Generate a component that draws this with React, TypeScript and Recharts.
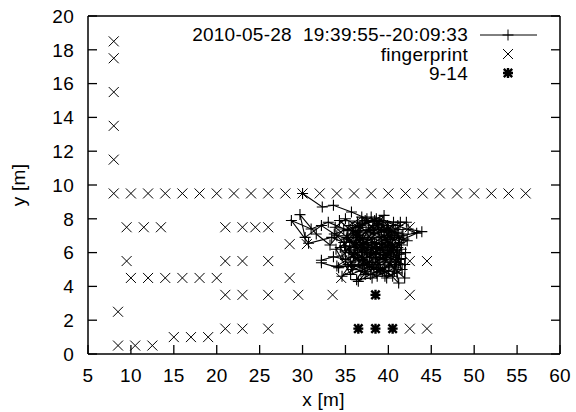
import React from 'react';
import { ScatterChart, Scatter, XAxis, YAxis, Legend } from 'recharts';

const xTicks = [5, 10, 15, 20, 25, 30, 35, 40, 45, 50, 55, 60];
const yTicks = [0, 2, 4, 6, 8, 10, 12, 14, 16, 18, 20];

const trajectoryTitle = '2010-05-28\u00a0 19:39:55--20:09:33';
const fingerprintTitle = 'fingerprint';
const selectedTitle = '9-14';

// fingerprint grid
const fpCol8Y = [18.5, 17.5, 15.5, 13.5, 11.5];
const fpRow9_5X = [8, 10, 12, 14, 16, 18, 20, 22, 24, 26, 28, 30, 32, 34, 36, 38, 40, 42, 44, 46, 48, 50, 52, 54, 56];
const fpRow7_5X = [9.5, 11.5, 13.5, 21, 23, 24.5, 26, 42.5];
const fpRow6_5X = [28.5, 30.5];
const fpRow5_5X = [9.5, 21, 23, 26, 42.5, 44.5];
const fpRow4_5X = [10, 12, 14, 16, 18, 20, 28.5, 34.5];
const fpRow3_5X = [21, 23, 26, 29.5, 33.5, 42.5];
const fpRow2_5X = [8.5];
const fpRow1_5X = [21, 23, 26, 42.5, 44.5];
const fpRow1_0X = [15, 17, 19];
const fpRow0_5X = [8.5, 10.5, 12.5];

// 9-14 points
const selX = [36.5, 38.5, 40.5, 38.5];
const selY = [1.5, 1.5, 1.5, 3.5];

// trajectory
const trajectory: [number, number][] = [
  [30.0, 9.5], [32.3, 8.7], [33.6, 8.8], [35.7, 8.4], [37.5, 8.0], [36.2, 7.2], [34.8, 7.4], [33.2, 6.45],
  [31.6, 7.1], [29.7, 8.25], [30.3, 6.9], [32.2, 7.6], [34.0, 7.0], [35.5, 6.2], [37.0, 6.8], [38.6, 8.0],
  [40.6, 7.8], [39.2, 6.5], [37.8, 5.4], [36.4, 6.0], [35.0, 5.6], [33.6, 5.75], [32.2, 5.55], [32.2, 5.4],
  [34.2, 5.1], [36.0, 5.3], [37.5, 4.9], [39.0, 5.6], [40.4, 6.3], [41.5, 6.45], [40.0, 7.4], [38.2, 7.6],
  [36.8, 7.0], [35.4, 7.6], [36.9, 8.1], [38.8, 7.2], [40.2, 5.8], [41.5, 5.65], [41.0, 4.8], [39.6, 4.6],
  [38.0, 5.2], [36.5, 4.3], [37.9, 4.7], [39.5, 5.1], [41.2, 4.2], [40.8, 5.3], [39.4, 6.1], [38.0, 6.6],
  [36.6, 6.4], [35.2, 6.9], [33.8, 7.5], [35.0, 8.0], [36.6, 7.5], [38.3, 7.1], [39.8, 7.3], [42.3, 7.4],
  [43.9, 7.24], [41.6, 7.0], [40.1, 6.8], [38.5, 6.0], [37.0, 5.6], [35.8, 5.0], [34.6, 5.8], [36.0, 6.6],
  [37.3, 7.9], [39.9, 7.6], [41.2, 6.9], [39.0, 6.2], [36.4, 7.8], [35.1, 6.8], [37.8, 5.7], [40.9, 5.6],
  [39.3, 4.9], [37.0, 5.3], [35.4, 6.0], [36.7, 7.2], [38.8, 7.7], [41.0, 7.2], [40.0, 6.1], [37.4, 6.5],
  [35.8, 7.4], [38.4, 7.9], [40.7, 7.0], [39.7, 5.7], [38.2, 5.4], [36.2, 5.7], [34.9, 6.4], [36.9, 6.3],
  [39.3, 6.3], [41.3, 6.6], [40.1, 5.2], [38.6, 4.8], [37.1, 5.5], [36.1, 6.3], [37.7, 7.5], [39.5, 7.3],
  [41.4, 7.8], [40.6, 6.1], [38.9, 5.3], [37.3, 4.7], [35.7, 5.2], [36.6, 6.9], [38.4, 6.6], [40.2, 6.4],
  [41.6, 5.0], [39.8, 4.5], [38.5, 5.7], [37.0, 6.2], [35.5, 6.6], [36.7, 7.6], [38.0, 8.1], [39.6, 6.8],
  [41.1, 6.3], [40.5, 4.6], [38.8, 5.1], [37.5, 5.9], [36.3, 6.9], [37.9, 7.3], [39.4, 7.8], [40.8, 7.4],
  [39.9, 6.3], [38.1, 6.2], [36.6, 5.2], [35.3, 5.3], [36.8, 4.9], [38.7, 4.6], [40.3, 5.5], [41.5, 6.2],
  [40.0, 7.2], [38.3, 7.4], [36.5, 7.3], [35.2, 7.0], [36.9, 6.0], [38.6, 5.9], [40.4, 5.9], [41.7, 7.1],
  [39.2, 7.4], [37.4, 6.6], [36.0, 6.1], [37.6, 5.3], [39.1, 5.0], [40.7, 4.9], [41.2, 5.6], [39.6, 6.0],
  [38.0, 6.4], [36.4, 7.0],
  [33.9, 6.2], [35.6, 4.7], [42.0, 6.0], [41.9, 4.5], [34.3, 7.9], [42.1, 7.8], [34.0, 5.2], [41.9, 5.3],
  [33.7, 7.1], [39.5, 8.2], [34.6, 4.6], [42.2, 6.7],
  [37.4, 7.3], [38.9, 6.9], [40.5, 6.5], [39.6, 5.4], [38.3, 5.0], [36.9, 5.8], [35.6, 5.4], [34.4, 6.3],
  [35.9, 7.1], [37.6, 6.2], [39.1, 5.9], [40.7, 5.1], [41.3, 5.9], [39.9, 6.6], [38.6, 6.3], [37.2, 6.1],
  [36.0, 5.9], [34.8, 6.6], [33.4, 6.9], [30.7, 6.55], [28.7, 7.9], [31.0, 7.4], [33.0, 7.8], [35.3, 7.3],
  [37.0, 7.7], [39.0, 7.9], [41.1, 7.6], [43.3, 7.15], [41.8, 6.8], [40.2, 6.0], [38.7, 5.5], [37.2, 5.1],
  [36.3, 4.4], [38.1, 4.5], [40.0, 4.9], [41.4, 5.3], [40.3, 6.9], [38.9, 7.5], [37.6, 6.9], [36.2, 6.7],
  [35.0, 6.1], [36.5, 5.5], [38.0, 5.8], [39.7, 6.4], [41.0, 6.1], [39.5, 7.0], [38.1, 6.8], [36.8, 6.5],
  [37.9, 6.0], [39.2, 6.7], [40.4, 7.1], [38.6, 6.5],
];

const trajData = trajectory.map(([x, y]) => ({ x, y }));
const fingerprintData = [
  ...fpCol8Y.map((y) => ({ x: 8, y })),
  ...fpRow9_5X.map((x) => ({ x, y: 9.5 })),
  ...fpRow7_5X.map((x) => ({ x, y: 7.5 })),
  ...fpRow6_5X.map((x) => ({ x, y: 6.5 })),
  ...fpRow5_5X.map((x) => ({ x, y: 5.5 })),
  ...fpRow4_5X.map((x) => ({ x, y: 4.5 })),
  ...fpRow3_5X.map((x) => ({ x, y: 3.5 })),
  ...fpRow2_5X.map((x) => ({ x, y: 2.5 })),
  ...fpRow1_5X.map((x) => ({ x, y: 1.5 })),
  ...fpRow1_0X.map((x) => ({ x, y: 1.0 })),
  ...fpRow0_5X.map((x) => ({ x, y: 0.5 })),
];
const selData = selX.map((x, i) => ({ x, y: selY[i] }));

const FONT = '"Liberation Sans", Arial, Helvetica, sans-serif';
const FS = 19;
const LS = 0.25;
const TICK = 9;

const plusPath = (cx: number, cy: number, r: number) => `M${cx - r},${cy}L${cx + r},${cy}M${cx},${cy - r}L${cx},${cy + r}`;
const crossPath = (cx: number, cy: number, r: number) =>
  `M${cx - r},${cy - r}L${cx + r},${cy + r}M${cx - r},${cy + r}L${cx + r},${cy - r}`;

const PlusShape = (p: any) => <path d={plusPath(p.cx, p.cy, 5.5)} stroke="#000" strokeWidth={1.1} fill="none" />;
const CrossShape = (p: any) => <path d={crossPath(p.cx, p.cy, 5)} stroke="#000" strokeWidth={1} fill="none" />;
const StarShape = (p: any) => (
  <path d={plusPath(p.cx, p.cy, 5) + crossPath(p.cx, p.cy, 4.2)} stroke="#000" strokeWidth={2.4} fill="none" />
);

const BottomTick = (p: any) => (
  <g>
    <line x1={p.x} y1={p.y} x2={p.x} y2={p.y - TICK} stroke="#000" strokeWidth={1.3} />
    <text x={p.x} y={p.y + 28} textAnchor="middle" fontFamily={FONT} fontSize={FS} letterSpacing={LS} fill="#000">
      {p.payload.value}
    </text>
  </g>
);
const TopTick = (p: any) => <line x1={p.x} y1={p.y} x2={p.x} y2={p.y + TICK} stroke="#000" strokeWidth={1.3} />;
const LeftTick = (p: any) => (
  <g>
    <line x1={p.x} y1={p.y} x2={p.x + TICK} y2={p.y} stroke="#000" strokeWidth={1.3} />
    <text x={p.x - 14} y={p.y + 6.7} textAnchor="end" fontFamily={FONT} fontSize={FS} letterSpacing={LS} fill="#000">
      {p.payload.value}
    </text>
  </g>
);
const RightTick = (p: any) => <line x1={p.x} y1={p.y} x2={p.x - TICK} y2={p.y} stroke="#000" strokeWidth={1.3} />;

const LegendBox = () => (
  <svg width={576} height={412} style={{ position: 'absolute', left: 0, top: 0, pointerEvents: 'none' }}>
    <g fontFamily={FONT} fontSize={FS} letterSpacing={LS} fill="#000" textAnchor="end">
      <text x={468} y={41}>{trajectoryTitle}</text>
      <text x={468} y={60.5}>{fingerprintTitle}</text>
      <text x={468} y={80}>{selectedTitle}</text>
    </g>
    <line x1={480} y1={35} x2={537} y2={35} stroke="#000" strokeWidth={1} />
    <path d={plusPath(508, 35, 5.5)} stroke="#000" strokeWidth={1} fill="none" />
    <path d={crossPath(508, 54, 5)} stroke="#000" strokeWidth={1} fill="none" />
    <path d={plusPath(508, 73, 5) + crossPath(508, 73, 4.2)} stroke="#000" strokeWidth={2.4} fill="none" />
    <text x={323.5} y={406} textAnchor="middle" fontFamily={FONT} fontSize={FS} letterSpacing={LS} fill="#000">x [m]</text>
    <text x={25} y={185} textAnchor="middle" fontFamily={FONT} fontSize={FS} letterSpacing={LS} fill="#000" transform="rotate(-90 25 185)">
      y [m]
    </text>
  </svg>
);

export default function App() {
  return (
    <div style={{ position: 'absolute', left: 0, top: 0, width: 576, height: 412, background: '#fff' }}>
      <ScatterChart width={576} height={412} margin={{ top: 6, right: 0, bottom: 0, left: 28 }}>
        <XAxis
          xAxisId={0}
          type="number"
          dataKey="x"
          domain={[5, 60]}
          ticks={xTicks}
          interval={0}
          allowDataOverflow
          height={58}
          tickSize={0}
          tickMargin={0}
          tickLine={false}
          axisLine={{ stroke: '#000', strokeWidth: 1.5 }}
          tick={BottomTick}
        />
        <XAxis
          xAxisId="top"
          orientation="top"
          type="number"
          domain={[5, 60]}
          ticks={xTicks}
          interval={0}
          allowDataOverflow
          height={10}
          tickSize={0}
          tickMargin={0}
          tickLine={false}
          axisLine={{ stroke: '#000', strokeWidth: 1.5 }}
          tick={TopTick}
        />
        <YAxis
          yAxisId={0}
          type="number"
          dataKey="y"
          domain={[0, 20]}
          ticks={yTicks}
          interval={0}
          allowDataOverflow
          width={60}
          tickSize={0}
          tickMargin={0}
          tickLine={false}
          axisLine={{ stroke: '#000', strokeWidth: 1.5 }}
          tick={LeftTick}
        />
        <YAxis
          yAxisId="right"
          orientation="right"
          type="number"
          domain={[0, 20]}
          ticks={yTicks}
          interval={0}
          allowDataOverflow
          width={16}
          tickSize={0}
          tickMargin={0}
          tickLine={false}
          axisLine={{ stroke: '#000', strokeWidth: 1.5 }}
          tick={RightTick}
        />
        <Scatter
          name={trajectoryTitle}
          data={trajData}
          xAxisId={0}
          yAxisId={0}
          line={{ stroke: '#000', strokeWidth: 1.1 }}
          lineType="joint"
          shape={PlusShape}
          isAnimationActive={false}
        />
        <Scatter
          name={fingerprintTitle}
          data={fingerprintData}
          xAxisId={0}
          yAxisId={0}
          shape={CrossShape}
          isAnimationActive={false}
        />
        <Scatter
          name={selectedTitle}
          data={selData}
          xAxisId={0}
          yAxisId={0}
          shape={StarShape}
          isAnimationActive={false}
        />
        <Legend
          layout="horizontal"
          verticalAlign="middle"
          align="center"
          content={LegendBox}
          wrapperStyle={{ position: 'absolute', left: 0, top: 0, width: 576, height: 412 }}
        />
      </ScatterChart>
    </div>
  );
}
